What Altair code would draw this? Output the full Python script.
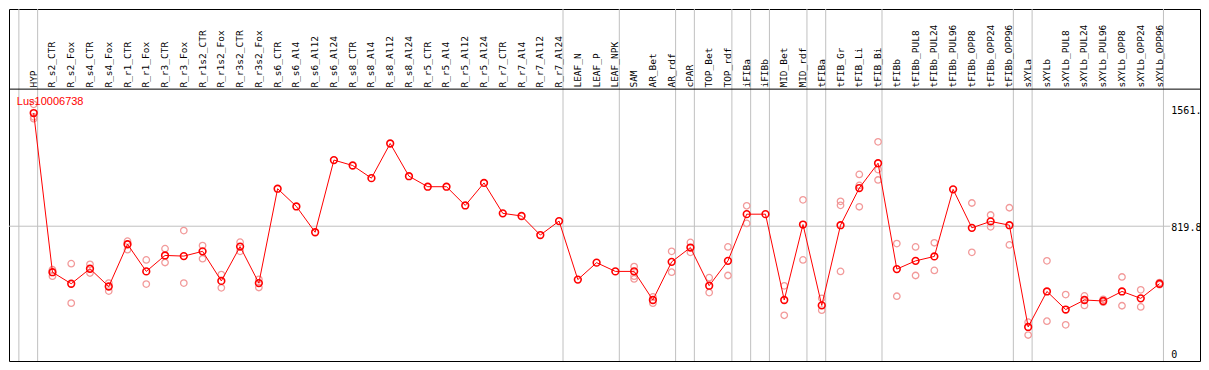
import altair as alt
import pandas as pd

gene = "Lus10006738"

categories = [
    "HYP", "R_s2_CTR", "R_s2_Fox", "R_s4_CTR", "R_s4_Fox", "R_r1_CTR", "R_r1_Fox",
    "R_r3_CTR", "R_r3_Fox", "R_r1s2_CTR", "R_r1s2_Fox", "R_r3s2_CTR", "R_r3s2_Fox",
    "R_s6_CTR", "R_s6_Al4", "R_s6_Al12", "R_s6_Al24", "R_s8_CTR", "R_s8_Al4",
    "R_s8_Al12", "R_s8_Al24", "R_r5_CTR", "R_r5_Al4", "R_r5_Al12", "R_r5_Al24",
    "R_r7_CTR", "R_r7_Al4", "R_r7_Al12", "R_r7_Al24", "LEAF_N", "LEAF_P", "LEAF_NPK",
    "SAM", "AR_Bet", "AR_rdf", "cPAR", "TOP_Bet", "TOP_rdf", "iFIBa", "iFIBb",
    "MID_Bet", "MID_rdf", "tFIBa", "tFIB_Gr", "tFIB_Li", "tFIB_Bi", "tFIBb",
    "tFIBb_PUL8", "tFIBb_PUL24", "tFIBb_PUL96", "tFIBb_OPP8", "tFIBb_OPP24",
    "tFIBb_OPP96", "sXYLa", "sXYLb", "sXYLb_PUL8", "sXYLb_PUL24", "sXYLb_PUL96",
    "sXYLb_OPP8", "sXYLb_OPP24", "sXYLb_OPP96",
]

means = [
    1508, 540, 470, 561, 453, 710, 545, 642, 638, 667, 487, 696, 474,
    1048, 940, 783, 1222, 1189, 1112, 1323, 1124, 1060, 1060, 946, 1083, 898, 882, 766, 851,
    495, 598, 545, 545, 371, 603, 690, 458, 609, 893, 893, 371, 830, 338, 826, 1052, 1203,
    559, 609, 636, 1044, 810, 849, 826, 207, 423, 313, 371, 365, 423, 381, 470,
]

replicates = [
    [1561, 1485, 1474], [555, 516], [592, 352], [588, 535], [474, 425], [729, 677],
    [615, 468], [683, 599], [793, 474], [702, 622], [526, 445], [723, 667], [497, 447],
    [], [], [], [], [], [], [], [], [], [], [], [], [], [], [], [],
    [], [], [],
    [574, 516, 499], [390, 352], [667, 540], [721, 661], [507, 416], [694, 520],
    [944, 837], [], [457, 278], [980, 615], [381, 309], [971, 947, 545],
    [1135, 1068, 938], [1333, 1164, 1101], [714, 394], [694, 520], [719, 551], [],
    [961, 661], [888, 816], [932, 706], [236, 158], [609, 242], [404, 220],
    [396, 338], [375, 358], [511, 336], [433, 329], [477, 464],
]

# index of the last category of each group (-1 = left edge)
group_ends = [-1, 0, 28, 31, 34, 35, 37, 38, 39, 41, 42, 45, 52, 53, 60]

axis_values = [0, 819.8, 1561]
axis_labels = ["0", "819.8", "1561."]

# ---- layout constants ----
W, H = 1191, 352
XMIN, XMAX = -1.316, 62.158
TOP = 2140.9
HDR = 1653.5
LABEL_Y = 1663.0
TITLE_X, TITLE_Y = -0.9, 1578.0
AXIS_LABEL_X = 60.63
SEP_OFFSET = 0.21

xscale = alt.Scale(domain=[XMIN, XMAX], nice=False, zero=False)
yscale = alt.Scale(domain=[0, TOP], nice=False, zero=False)

df_mean = pd.DataFrame({"idx": list(range(len(categories))), "cat": categories, "value": means})
rep_rows = [{"idx": i, "value": v} for i, reps in enumerate(replicates) for v in reps]
df_rep = pd.DataFrame(rep_rows)
df_sep = pd.DataFrame({"end": group_ends})

X = alt.X("idx:Q", scale=xscale, axis=None)
Y = alt.Y("value:Q", scale=yscale, axis=None)

seps = alt.Chart(df_sep).transform_calculate(pos=f"datum.end + {SEP_OFFSET}").mark_rule(
    color="#c0c0c0", strokeWidth=1
).encode(x=alt.X("pos:Q", scale=xscale, axis=None), y=alt.value(0), y2=alt.value(H))

midline = alt.Chart(pd.DataFrame({"v": [axis_values[1]]})).mark_rule(color="#c0c0c0", strokeWidth=1).encode(
    y=alt.Y("v:Q", scale=yscale, axis=None),
    x=alt.X(datum=XMIN, scale=xscale, axis=None),
    x2=alt.X2(datum=AXIS_LABEL_X - 0.05),
)

header_line = alt.Chart(pd.DataFrame({"v": [HDR]})).mark_rule(color="black", strokeWidth=1).encode(
    y=alt.Y("v:Q", scale=yscale, axis=None), x=alt.value(0), x2=alt.value(W)
)

header_labels = alt.Chart(df_mean).mark_text(
    angle=270, align="left", baseline="middle", font="DejaVu Sans Mono", fontSize=9.5, color="black"
).encode(x=X, y=alt.Y(datum=LABEL_Y, scale=yscale, axis=None), text="cat:N")

reps = alt.Chart(df_rep).mark_point(
    shape="circle", filled=False, size=42, strokeWidth=1.3, color="#f29a9a", opacity=1
).encode(x=X, y=Y)

line = alt.Chart(df_mean).mark_line(color="#ff0000", strokeWidth=1).encode(x=X, y=Y)

pts = alt.Chart(df_mean).mark_point(
    shape="circle", filled=False, size=45, strokeWidth=1.6, color="#ff0000", opacity=1
).encode(x=X, y=Y)

title = alt.Chart(pd.DataFrame({"t": [gene]})).mark_text(
    align="left", baseline="middle", font="Liberation Sans", fontSize=11, color="#ff0000"
).encode(
    x=alt.X(datum=TITLE_X, scale=xscale, axis=None),
    y=alt.Y(datum=TITLE_Y, scale=yscale, axis=None),
    text="t:N",
)

def axis_label(k, dy, baseline="middle"):
    d = pd.DataFrame({"v": [axis_values[k]], "lab": [axis_labels[k]]})
    return alt.Chart(d).mark_text(
        align="left", baseline=baseline, dy=dy, font="DejaVu Sans Mono", fontSize=10, color="black"
    ).encode(
        x=alt.X(datum=AXIS_LABEL_X, scale=xscale, axis=None),
        y=alt.Y("v:Q", scale=yscale, axis=None),
        text="lab:N",
    )

chart = alt.layer(
    seps, midline, header_line, header_labels, reps, line, pts, title,
    axis_label(0, -6), axis_label(1, 2), axis_label(2, 7),
).properties(
    width=W, height=H, autosize=alt.AutoSizeParams(type="none"), padding=1
).configure_view(stroke="black", strokeWidth=1).configure_axis(disable=True)

chart.save("out.html", embed_options={"renderer": "svg", "actions": False})
